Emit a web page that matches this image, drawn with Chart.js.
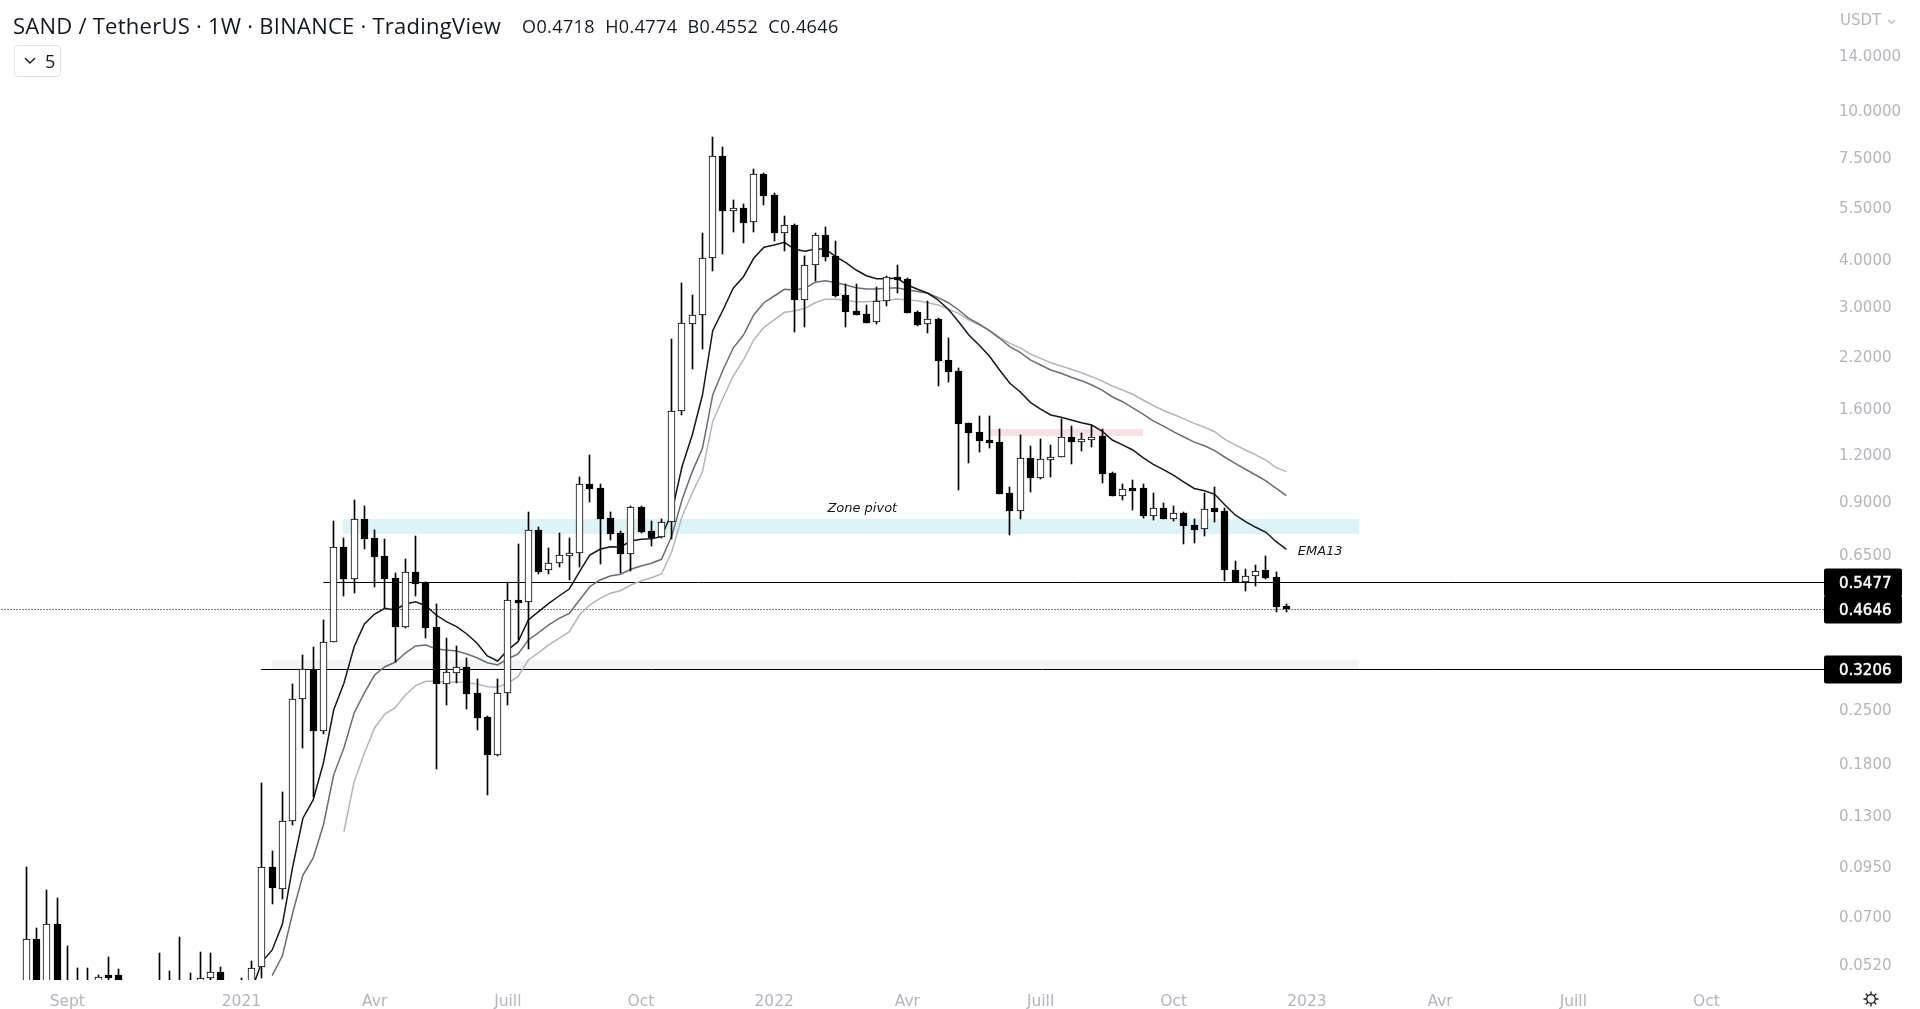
<!DOCTYPE html>
<html lang="fr"><head><meta charset="utf-8"><title>SAND / TetherUS</title>
<script src="https://cdn.jsdelivr.net/npm/chart.js@4/dist/chart.umd.js"></script>
<style>
html,body{margin:0;padding:0;background:#fff;overflow:hidden;width:1920px;height:1009px}
#wrap{position:relative;width:1920px;height:1009px}
canvas{position:absolute;left:0;top:0}
.t{position:absolute;white-space:nowrap;color:#131722;font-family:"Open Sans",sans-serif}
#title{left:13px;top:11px;font-size:22px;line-height:28px;letter-spacing:.25px}
#ohlc{left:522px;top:13px;font-size:18px;line-height:26px;letter-spacing:.4px}
#btn{left:14px;top:45px;width:45px;height:30px;border:1px solid #e0e3eb;border-radius:4px;font-size:18px;line-height:30px}
#btn svg{position:absolute;left:8px;top:10px}
#btn span{position:absolute;left:30px;top:0}
#usdt{left:1840px;top:10px;font:15px "DejaVu Sans",sans-serif;color:#b2b5be;line-height:20px}
#usdt svg{margin-left:1px}
#gear{position:absolute;left:1861px;top:989px}
</style></head><body><div id="wrap">
<canvas id="c" width="1920" height="1009"></canvas>
<div class="t" id="title">SAND / TetherUS · 1W · BINANCE · TradingView</div>
<div class="t" id="ohlc">O0.4718 &nbsp;H0.4774 &nbsp;B0.4552 &nbsp;C0.4646</div>
<div class="t" id="btn"><svg width="14" height="9" viewBox="0 0 14 9"><path d="M2 2l5 5 5-5" fill="none" stroke="#131722" stroke-width="1.4"/></svg><span>5</span></div>
<div class="t" id="usdt">USDT <svg width="9" height="6" viewBox="0 0 9 6"><path d="M1 1l3.5 3.5L8 1" fill="none" stroke="#b2b5be" stroke-width="1.2"/></svg></div>
<svg id="gear" width="20" height="20" viewBox="0 0 20 20"><circle cx="10" cy="10" r="4.3" fill="none" stroke="#131722" stroke-width="1.3"/><path d="M10 2.5v3M10 14.5v3M2.5 10h3M14.5 10h3M4.7 4.7l2.1 2.1M13.2 13.2l2.1 2.1M4.7 15.3l2.1-2.1M13.2 6.8l2.1-2.1" stroke="#131722" stroke-width="1.3"/></svg>
</div>
<script>
// Weekly candles, index 0 = first week shown
const open=[.0417,.0606,.0417,.0665,.0417,.0444,.0417,.0444,.0486,.0486,.0444,.0428,.0444,.0430,.0449,.0430,.0458,.0444,.0479,.0495,.0458,.0444,.0458,.0510,.0948,
.0825,.1259,.2658,.3198,.2191,.3776,.6778,.5586,.8053,.7164,.6412,.5600,.4157,.5811,.5464,.4149,.2926,.3131,.3237,.2758,.2379,.1890,.2758,.4891,.4831,
.7526,.5883,.6142,.6452,.6556,.9990,.9765,.8103,.7388,.6516,.8671,.7480,.7208,.7906,1.566,2.676,2.828,4.017,7.529,5.386,5.466,5.014,6.751,5.921,4.703,
4.932,3.113,3.848,4.629,4.075,3.205,2.904,2.851,2.709,3.083,3.580,3.537,2.881,2.676,2.765,2.148,2.007,1.454,1.376,1.310,1.294,.9452,.8491,1.172,1.040,
1.165,1.180,1.334,1.302,1.318,1.343,1.069,.9313,.9765,.9747,.8234,.8618,.8083,.8356,.7776,.7572,.8618,.8476,.5883,.5464,.5669,.5883,.5635,.4718];
const high=[.0945,.0649,.0822,.0781,.0582,.0507,.0507,.0486,.0543,.0504,.0458,.0458,.0458,.0556,.0498,.0614,.0492,.0560,.0556,.0510,.0466,.0477,.0530,.1585,.1043,
.1499,.2921,.3492,.3662,.4332,.7969,.7164,.9070,.8741,.7540,.7120,.5775,.6307,.7266,.5474,.4780,.3877,.3691,.3422,.3007,.2399,.3007,.5464,.6917,.8424,
.7666,.6749,.7402,.7177,1.043,1.197,1.001,.8424,.7494,.8741,.8724,.7969,.8053,2.440,3.444,3.199,4.686,8.463,7.958,5.752,5.613,6.949,6.780,5.995,5.203,
4.962,4.075,4.686,4.862,4.461,3.423,3.423,3.008,3.360,3.603,3.848,3.552,2.909,3.083,2.776,2.455,2.041,1.454,1.521,1.521,1.402,.9807,1.351,1.262,1.318,
1.270,1.496,1.428,1.368,1.428,1.402,1.078,1.001,1.024,.9990,.9452,.8904,.8724,.8408,.8053,.9469,.9807,.8618,.6218,.5919,.6067,.6424,.5811,.4774];
const low=[.0388,.0388,.0388,.0388,.0388,.0392,.0392,.0405,.0444,.0417,.0410,.0410,.0410,.0417,.0417,.0417,.0417,.0430,.0469,.0444,.0430,.0430,.0444,.0478,.0754,
.0779,.1228,.1973,.1457,.2147,.3776,.5031,.5106,.6707,.5318,.4656,.3351,.4131,.5031,.3885,.1734,.2571,.2944,.2509,.2205,.1472,.1878,.2571,.3830,.3630,
.5761,.5750,.6004,.5542,.6015,.8975,.6127,.7090,.5775,.5868,.7402,.6832,.7191,.7133,1.534,2.036,2.302,3.722,4.125,4.732,4.422,4.732,5.588,4.477,4.210,
2.557,2.637,3.500,3.958,3.160,2.637,2.839,2.702,2.676,3.000,3.239,2.874,2.653,2.541,1.833,1.879,.9663,1.141,1.221,1.252,.9428,.7325,.8083,.9545,1.034,
1.047,1.180,1.134,1.229,1.259,1.009,.9296,.9070,.8528,.8118,.8033,.8083,.7984,.6930,.6973,.7266,.7935,.5508,.5464,.5188,.5351,.5576,.4559,.4552];
const close=[.0606,.0417,.0665,.0430,.0444,.0417,.0444,.0482,.0482,.0444,.0428,.0444,.0428,.0449,.0430,.0458,.0430,.0479,.0495,.0458,.0444,.0458,.0507,.0948,.0830,
.1259,.2658,.3198,.2191,.3776,.6778,.5586,.8053,.7147,.6397,.5586,.4157,.5811,.5417,.4131,.2926,.3139,.3237,.2752,.2374,.1890,.2758,.4891,.4819,.7526,
.5832,.6142,.6452,.6556,.9990,.9723,.8083,.7370,.6516,.8671,.7448,.7177,.7906,1.566,2.692,2.828,4.017,7.529,5.386,5.466,5.002,6.739,5.907,4.703,4.923,
3.113,3.848,4.629,4.057,3.191,2.892,2.839,2.702,3.083,3.574,3.515,2.874,2.664,2.759,2.138,1.998,1.451,1.373,1.307,1.291,.9428,.8491,1.172,1.040,1.165,
1.180,1.334,1.299,1.318,1.334,1.066,.9296,.9687,.9663,.8219,.8618,.8083,.8356,.7742,.7554,.8565,.8439,.5894,.5464,.5669,.5868,.5621,.4702,.4646];
// Moving averages: first value belongs to the week index given by the *Start constant
const ema13Start=22;
const ema13=[.0444,.0528,.0568,.0666,.0947,.1278,.1430,.1796,.2489,.2934,.3675,.4227,.4495,.4656,.4607,.4780,.4849,.4731,.4467,.4287,.4157,.3974,.3753,.3471,.3365,
.3601,.3790,.4332,.4559,.4801,.5022,.5243,.5832,.6464,.6695,.6803,.6790,.7046,.7120,.7147,.7235,.8372,1.113,1.353,1.731,2.572,2.922,3.340,3.587,4.017,
4.299,4.360,4.433,4.246,4.194,4.254,4.254,4.057,3.910,3.738,3.609,3.543,3.543,3.558,3.408,3.319,3.239,3.108,2.935,2.719,2.505,2.356,2.201,2.019,1.861,
1.767,1.655,1.588,1.531,1.509,1.484,1.460,1.439,1.387,1.312,1.273,1.234,1.178,1.129,1.094,1.055,1.013,.9735,.9604,.9394,.8795,.8269,.7935,.7666,.7434,
.7016,.6695];
const emaMidStart=24;
const emaMid=[.0485,.0548,.0713,.0901,.1000,.1226,.1668,.1970,.2443,.2764,.3087,.3249,.3339,.3535,.3691,.3714,.3623,.3601,.3579,.3514,.3434,.3330,.3284,.3407,.3514,
.3830,.4006,.4201,.4377,.4514,.4900,.5318,.5542,.5680,.5740,.5919,.6041,.6142,.6295,.7266,.9070,1.080,1.247,1.731,2.019,2.312,2.505,2.833,3.056,3.185,
3.319,3.305,3.340,3.465,3.500,3.457,3.408,3.352,3.325,3.325,3.340,3.352,3.305,3.275,3.239,3.152,3.056,2.922,2.776,2.681,2.572,2.455,2.331,2.252,2.148,
2.083,2.019,1.979,1.931,1.891,1.841,1.785,1.713,1.661,1.600,1.540,1.477,1.430,1.380,1.337,1.295,1.267,1.229,1.180,1.137,1.096,1.058,1.020,.9747,.9313];
const emaSlowStart=31;
const emaSlow=[.1176,.1601,.1910,.2228,.2428,.2524,.2730,.2891,.2970,.2970,.2944,.2963,.2944,.2921,.2873,.2862,.2934,.3059,.3386,.3542,.3714,.3870,.4031,.4467,.4751,
.4951,.5106,.5188,.5374,.5508,.5621,.5750,.6597,.8183,.9469,1.080,1.469,1.700,1.946,2.148,2.429,2.627,2.748,2.881,2.904,2.953,3.056,3.121,3.121,3.102,
3.075,3.075,3.089,3.102,3.127,3.108,3.094,3.056,3.013,2.935,2.863,2.748,2.664,2.583,2.470,2.380,2.317,2.229,2.170,2.112,2.070,2.028,1.986,1.938,1.887,
1.830,1.785,1.739,1.679,1.623,1.574,1.535,1.495,1.454,1.419,1.381,1.318,1.273,1.234,1.197,1.160,1.107,1.080];
// Axes
const priceTicks=[14,10,7.5,5.5,4,3,2.2,1.6,1.2,.9,.65,.25,.18,.13,.095,.07,.052];
const timeTickWeeks=[4,21,34,47,60,73,86,99,112,125,138,151,164];
const timeTickLabels=['Sept','2021','Avr','Juill','Oct','2022','Avr','Juill','Oct','2023','Avr','Juill','Oct'];
// Drawing tools on the chart
const levelPrices=[.5477,.4646,.3206];
const levelStarts=[29,-3,22.9];
const zones=[{name:'pivot',from:30.9,to:130.1,top:.8067,bottom:.7356,color:'#def3f6'},
             {name:'support',from:24,to:130.1,top:.3385,bottom:.3204,color:'#f2f3f5'},
             {name:'resistance',from:94,to:109,top:1.404,bottom:1.345,color:'#f8e1e4'}];
const notes=[{text:'Zone pivot',week:81.6,price:.8684,align:'center'},{text:'EMA13',week:124.1,price:.6664,align:'left'}];

const weeks=open.map((_,i)=>i);
const xMin=-2.567,xMax=175.47,yMin=.0472,yMax=19.71;
const isUp=i=>close[i]>=open[i];

const tvPlugin={id:'tv',
 afterDatasetsUpdate(ch){ // snap candles and level lines to the pixel grid as the original does
  ch.data.datasets.forEach((d,di)=>{
   const els=ch.getDatasetMeta(di).data;
   if(d.isLevel){els.forEach(p=>{p.y=Math.round(p.y)+.5;});return;}
   if(d.type!=='bar')return;
   els.forEach(el=>{
    el.x=Math.floor(el.x)+.5;
    let a=Math.round(el.y),b=Math.round(el.base);
    if(d.label==='bodies'&&Math.abs(b-a)<3)b=a+3;
    el.y=a;el.base=b;
   });
  });
 },
 beforeDraw(ch){ // price labels sit slightly lower than the canvas "middle" baseline
  const s=ch.scales.y; if(s.__shifted)return; s.__shifted=true;
  s.getLabelItems().forEach(it=>{const t=it.options.translation;it.options.translation=[t[0],t[1]+2];});
 },
 beforeDatasetsDraw(ch){const {ctx,scales:{x,y}}=ch;ctx.save();
  zones.forEach(z=>{ctx.fillStyle=z.color;const l=x.getPixelForValue(z.from),t=y.getPixelForValue(z.top);
   ctx.fillRect(l,t,x.getPixelForValue(z.to)-l,y.getPixelForValue(z.bottom)-t);});
  ctx.restore();},
 afterDatasetsDraw(ch){const {ctx,scales:{x,y},chartArea:a}=ch;ctx.save();
  ctx.font='italic 13px "DejaVu Sans",sans-serif';ctx.fillStyle='#131722';ctx.textBaseline='middle';
  notes.forEach(n=>{ctx.textAlign=n.align;ctx.fillText(n.text,x.getPixelForValue(n.week),y.getPixelForValue(n.price)+2);});
  ctx.fillStyle='#000';
  const ys=levelPrices.map(p=>Math.round(y.getPixelForValue(p))+.5);
  const h=28,l=a.right,w=78;
  ys.forEach(v=>{ctx.beginPath();ctx.roundRect(l,v-14,w,h,2);ctx.fill();});
  ctx.fillStyle='#fff';ctx.strokeStyle='#fff';ctx.lineWidth=.45;ctx.font='15px "DejaVu Sans",sans-serif';ctx.textAlign='left';
  levelPrices.forEach((p,i)=>{const s=p.toFixed(4);ctx.fillText(s,l+15,ys[i]+1.5);ctx.strokeText(s,l+15,ys[i]+1.5);});
  ctx.restore();}
};

const bodyColors=weeks.map(i=>isUp(i)?'#ffffff':'#000000');
const hLine=(i,dash)=>({type:'line',label:'level '+levelPrices[i],isLevel:true,order:5,data:[{x:levelStarts[i],y:levelPrices[i]},{x:xMax,y:levelPrices[i]}],
  borderColor:'#000',borderWidth:1,borderDash:dash,pointRadius:0});
new Chart(document.getElementById('c'),{
 type:'bar',plugins:[tvPlugin],
 data:{datasets:[
  {type:'bar',label:'bodies',order:1,data:weeks.map(i=>({x:i,y:[open[i],close[i]]})),barThickness:7,grouped:false,
    backgroundColor:bodyColors,borderColor:'#000',borderWidth:1,borderSkipped:false},
  {type:'bar',label:'wicks',order:2,data:weeks.map(i=>({x:i,y:[low[i],high[i]]})),barThickness:1,grouped:false,
    backgroundColor:'#000',borderWidth:0},
  {type:'line',label:'EMA13',order:3,data:ema13.map((v,i)=>({x:i+ema13Start,y:v})),borderColor:'#131722',borderWidth:1.5,pointRadius:0,tension:0},
  {type:'line',label:'EMA mid',order:3,data:emaMid.map((v,i)=>({x:i+emaMidStart,y:v})),borderColor:'#6a6d78',borderWidth:1.5,pointRadius:0,tension:0},
  {type:'line',label:'EMA slow',order:3,data:emaSlow.map((v,i)=>({x:i+emaSlowStart,y:v})),borderColor:'#b2b5be',borderWidth:1.5,pointRadius:0,tension:0},
  hLine(0),hLine(1,[1,2]),hLine(2)
 ]},
 options:{responsive:false,animation:false,events:[],maintainAspectRatio:false,
  layout:{padding:0},
  plugins:{legend:{display:false},tooltip:{enabled:false},title:{display:false}},
  scales:{
   x:{type:'linear',min:xMin,max:xMax,offset:false,grid:{display:false},border:{display:false},
     afterBuildTicks(s){s.ticks=timeTickWeeks.map(v=>({value:v}));},
     afterFit(s){s.height=29;s.paddingLeft=0;s.paddingRight=0;},
     ticks:{autoSkip:false,maxRotation:0,padding:5,color:'#b2b5be',font:{family:'"DejaVu Sans"',size:15.5},
       callback:v=>timeTickLabels[timeTickWeeks.indexOf(v)]}},
   y:{type:'logarithmic',position:'right',min:yMin,max:yMax,grid:{display:false},border:{display:false},
     afterBuildTicks(s){s.ticks=priceTicks.map(v=>({value:v}));},
     afterFit(s){s.width=96;s.paddingTop=0;s.paddingBottom=0;},
     ticks:{autoSkip:false,padding:7,color:'#b2b5be',font:{family:'"DejaVu Sans"',size:15},crossAlign:'near',
       callback:v=>Number(v).toFixed(4)}}
  }}
});
</script></body></html>
